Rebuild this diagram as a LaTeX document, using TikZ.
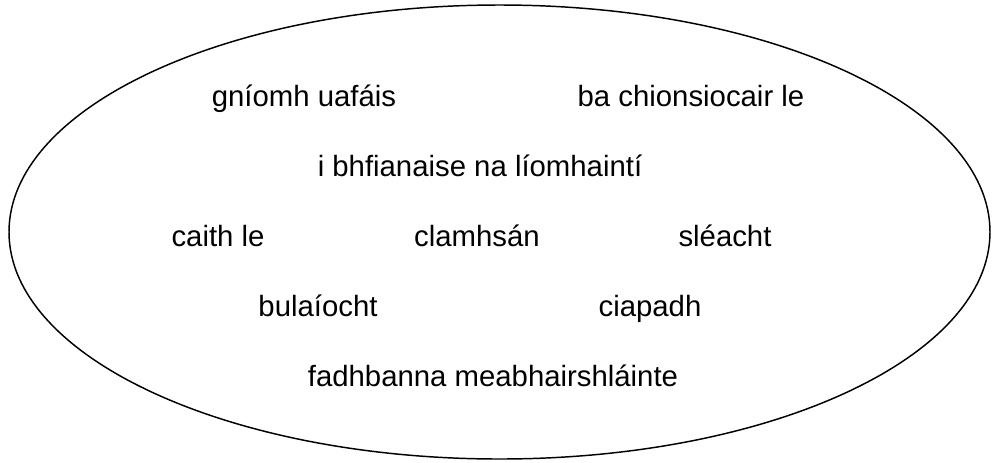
\documentclass[tikz,border=0pt]{standalone}
\usepackage{fontspec}
\setmainfont{Liberation Sans}
\usetikzlibrary{shapes.geometric}
\tikzset{
    word/.style={font=\fontsize{22}{26}\selectfont, inner sep=0pt, anchor=base},
    cloud/.style={draw, line width=1.1pt},
}

\begin{document}
\begin{tikzpicture}[x=0.75pt, y=-0.75pt]
    \useasboundingbox (0,0) rectangle (993,462);

    \draw[cloud] (499.5,232) ellipse [x radius=490.5, y radius=227];

    \node[word] (w1) at (304,106) {gníomh uafáis};
    \node[word] (w2) at (691,106) {ba chionsiocair le};
    \node[word] (w3) at (480,176) {i bhfianaise na líomhaintí};
    \node[word] (w4) at (218,246) {caith le};
    \node[word] (w5) at (477,246) {clamhsán};
    \node[word] (w6) at (725,246) {sléacht};
    \node[word] (w7) at (318,316) {bulaíocht};
    \node[word] (w8) at (650,316) {ciapadh};
    \node[word] (w9) at (493,386) {fadhbanna meabhairshláinte};

\end{tikzpicture}
\end{document}
